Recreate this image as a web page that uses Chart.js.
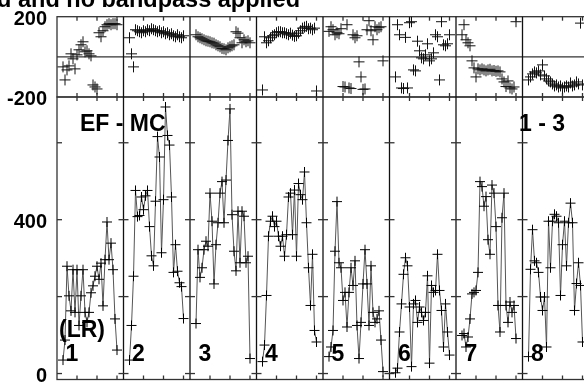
<!DOCTYPE html>
<html>
<head>
<meta charset="utf-8">
<script src="https://cdn.jsdelivr.net/npm/chart.js@4"></script>
<style>
  html, body { margin: 0; padding: 0; overflow: hidden; background: #fff; }
  .wrap { position: relative; width: 600px; height: 386px; }
</style>
</head>
<body>
<div class="wrap"><canvas id="possmChart"></canvas></div>
<script>
// IF numbers and channels plotted in each IF
const ifNumbers = ["1", "2", "3", "4", "5", "6", "7", "8"];
const channels = [3, 4, 5, 6, 7, 8, 9, 10, 11, 12, 13, 14, 15, 16, 17, 18, 19, 20, 21, 22, 23, 24, 25, 26, 27, 28, 29, 30];
const ifWidth = 33.25;
const channelTicks = [10, 20, 30];

// amplitude per IF
const ampIF1 = [35, 87, 279, 202, 163, 270, 159, 270, 125, 202, 270, 159, 133, 159, 210, 228, 253, 279, 245, 287, 176, 296, 394, 296, 339, 270, 142, 61];
const ampIF2 = [35, 125, 253, 476, 408, 411, 459, 426, 462, 476, 382, 306, 280, 448, 616, 563, 314, 452, 693, 619, 594, 459, 263, 335, 266, 236, 226, 143];
const ampIF3 = [130, 322, 250, 275, 322, 344, 331, 469, 396, 233, 335, 392, 469, 499, 392, 503, 606, 688, 413, 318, 267, 422, 288, 422, 409, 288, 305, 39];
const ampIF4 = [31, 74, 203, 357, 396, 409, 382, 396, 357, 331, 357, 305, 361, 459, 469, 361, 477, 305, 494, 465, 452, 524, 392, 275, 177, 310, 112, 82];
const ampIF5 = [44, 69, 112, 318, 447, 288, 275, 190, 211, 121, 211, 275, 229, 293, 125, 39, 133, 233, 322, 233, 125, 280, 159, 133, 142, 163, 87, 5];
const ampIF6 = [2, 14, 108, 181, 258, 301, 280, 173, 18, 181, 190, 133, 173, 159, 138, 159, 254, 27, 229, 211, 216, 310, 216, 164, 69, 181, 108, 48];
const ampIF7 = [99, 104, 69, 95, 142, 207, 211, 216, 263, 499, 486, 435, 460, 348, 310, 490, 469, 382, 177, 108, 405, 469, 177, 133, 186, 159, 177, 91];
const ampIF8 = [44, 271, 374, 293, 288, 263, 199, 164, 199, 69, 396, 275, 396, 414, 409, 392, 203, 335, 396, 280, 392, 443, 392, 164, 234, 288, 229, 82];

// phase per IF (degrees)
const phsIF1 = [-50, -115, -65, -45, 15, -10, -60, 10, 35, 60, 75, 25, 30, 15, 5, -140, -150, -160, 120, 100, 130, 150, 160, 165, 160, 165, 165, 160];
const phsIF2 = [95, 15, -50, 135, 130, 125, 120, 130, 125, 135, 130, 140, 135, 130, 125, 130, 120, 125, 115, 120, 110, 115, 105, 100, 110, 100, 95, 105];
const phsIF3 = [110, 100, 95, 90, 85, 80, 78, 75, 70, 68, 60, 55, 50, 42, 40, 35, 45, 50, 55, 60, 125, 118, 95, 70, 85, 75, 80, 70];
const phsIF4 = [-165, 100, 70, 80, 95, 105, 110, 120, 125, 125, 120, 120, 115, 110, 118, 108, 102, 105, 118, 130, 143, 148, 152, 140, 143, 135, 143, -170];
const phsIF5 = [127, 150, 135, 110, 120, 115, 140, -148, -150, 160, -155, -158, 110, 95, 105, -25, -100, -162, -160, 135, 180, 130, 85, 150, 135, 145, 150, -20];
const phsIF6 = [-100, 160, 110, -155, -158, 97, -155, 170, 175, -65, -70, 78, 30, -5, -10, 10, 65, -20, -10, 20, 110, 100, -115, 175, 60, 55, 65, 110];
const phsIF7 = [110, 160, 85, 70, 55, -20, -55, -100, -60, -65, -60, -65, -70, -65, -62, -70, -68, -72, -70, -75, -110, -125, -148, -120, -155, -160, -150, 175];
const phsIF8 = [-115, -100, -85, -75, -80, -70, -90, -40, -95, -110, -120, -125, -135, -145, -140, -150, -145, -155, -150, -145, -150, -130, -145, -140, -125, -135, 168, -140];

// axis ticks and labels
const phaseTicks = [-200, 0, 200];
const phaseTickLabels = [-200, 200];
const ampTicks = [0, 200, 400, 600];
const ampTickLabels = [0, 400];

const titleText = "d and no bandpass applied";
const baselineText = "EF - MC";
const sourceText = "1 - 3";
const stokesText = "(LR)";

document.addEventListener("DOMContentLoaded", () => {
  const ampByIF = [ampIF1, ampIF2, ampIF3, ampIF4, ampIF5, ampIF6, ampIF7, ampIF8];
  const phsByIF = [phsIF1, phsIF2, phsIF3, phsIF4, phsIF5, phsIF6, phsIF7, phsIF8];
  const boldFont = "bold 23px 'Liberation Sans', Arial, Helvetica, sans-serif";

  const datasets = [];
  ampByIF.forEach((vals, i) => {
    datasets.push({
      label: "amp IF " + ifNumbers[i],
      yAxisID: "amp",
      data: vals.map((v, k) => ({ x: i * ifWidth + channels[k], y: v })),
      showLine: true,
      borderColor: "#555",
      borderWidth: 1,
      pointStyle: "cross",
      pointRadius: 5,
      pointBorderColor: "#000",
      pointBorderWidth: 1,
    });
  });
  phsByIF.forEach((vals, i) => {
    datasets.push({
      label: "phase IF " + ifNumbers[i],
      yAxisID: "ph",
      data: vals.map((v, k) => ({ x: i * ifWidth + channels[k], y: v })),
      showLine: false,
      pointStyle: "cross",
      pointRadius: 5.5,
      pointBorderColor: "#111",
      pointBorderWidth: 1,
    });
  });

  function line(ctx, x1, y1, x2, y2) {
    ctx.beginPath();
    ctx.moveTo(x1, y1);
    ctx.lineTo(x2, y2);
    ctx.stroke();
  }

  // fixed axis width, no extra room for the end labels
  function fitAxis(scale) {
    scale.width = 57;
    scale.paddingTop = 0;
    scale.paddingBottom = 0;
  }

  // frame, IF dividers and tick marks, like the AIPS plot
  const framePlugin = {
    id: "frame",
    beforeDatasetsDraw(chart) {
      const { ctx, chartArea, scales } = chart;
      const x = scales.x, ph = scales.ph, amp = scales.amp;
      ctx.save();
      ctx.strokeStyle = "#333";
      ctx.lineWidth = 1.3;
      ctx.strokeRect(chartArea.left, ph.top, chartArea.right - chartArea.left, ph.bottom - ph.top);
      ctx.strokeRect(chartArea.left, amp.top, chartArea.right - chartArea.left, amp.bottom - amp.top);
      const y0 = ph.getPixelForValue(phaseTicks[1]);
      line(ctx, chartArea.left, y0, chartArea.right, y0);
      ifNumbers.forEach((n, i) => {
        const xl = x.getPixelForValue(i * ifWidth);
        ctx.strokeStyle = "#111";
        if (i > 0) line(ctx, xl, ph.top, xl, amp.bottom);
        ctx.strokeStyle = "#333";
        channelTicks.forEach((c) => {
          const xt = x.getPixelForValue(i * ifWidth + c);
          line(ctx, xt, ph.top, xt, ph.top + 4);
          line(ctx, xt, ph.bottom - 4, xt, ph.bottom + 4);
          line(ctx, xt, amp.bottom - 4, xt, amp.bottom);
        });
        ampTicks.forEach((v) => {
          const yt = amp.getPixelForValue(v);
          line(ctx, xl - (i ? 5 : 0), yt, xl + 5, yt);
        });
      });
      ctx.restore();
    },
    afterDraw(chart) {
      const { ctx, chartArea, scales } = chart;
      const x = scales.x, amp = scales.amp;
      ctx.save();
      ctx.fillStyle = "#000";
      ctx.textBaseline = "alphabetic";
      ctx.font = "bold 23.5px 'Liberation Sans', Arial, Helvetica, sans-serif";
      ctx.textAlign = "right";
      ctx.fillText(titleText, 300, 7);
      ctx.font = boldFont;
      ctx.textAlign = "left";
      ctx.fillText(baselineText, chartArea.left + 23, amp.top + 34);
      ctx.textAlign = "right";
      ctx.fillText(sourceText, chartArea.right - 24, amp.top + 34);
      ctx.textAlign = "left";
      ctx.fillText(stokesText, chartArea.left + 2, amp.bottom - 43);
      ifNumbers.forEach((n, i) => {
        ctx.fillText(n, x.getPixelForValue(i * ifWidth) + 8.5, amp.bottom - 19);
      });
      ctx.restore();
    },
  };

  const tickFont = { family: "'Liberation Sans', Arial, Helvetica, sans-serif", size: 20, weight: "bold" };

  new Chart(document.getElementById("possmChart").getContext("2d"), {
    type: "scatter",
    data: { datasets: datasets },
    options: {
      responsive: true,
      maintainAspectRatio: false,
      animation: false,
      layout: { padding: { top: 16.7, right: 11, bottom: 3, left: 0 } },
      plugins: { legend: { display: false }, tooltip: { enabled: false } },
      scales: {
        x: {
          type: "linear",
          display: false,
          min: 0,
          max: ifNumbers.length * ifWidth,
        },
        amp: {
          type: "linear",
          position: "left",
          stack: "panels",
          stackWeight: 285,
          min: -15.5,
          max: 719,
          grid: { display: false, drawTicks: false },
          border: { display: false },
          afterFit: fitAxis,
          afterBuildTicks: (scale) => { scale.ticks = ampTicks.map((v) => ({ value: v })); },
          ticks: {
            color: "#000",
            font: tickFont,
            padding: 10,
            labelOffset: 2.5,
            callback: (v) => (ampTickLabels.includes(v) ? String(v) : ""),
          },
        },
        ph: {
          type: "linear",
          position: "left",
          stack: "panels",
          stackWeight: 81,
          min: -200,
          max: 200,
          grid: { display: false, drawTicks: false },
          border: { display: false },
          afterFit: fitAxis,
          afterBuildTicks: (scale) => { scale.ticks = phaseTicks.map((v) => ({ value: v })); },
          ticks: {
            color: "#000",
            font: tickFont,
            padding: 10,
            labelOffset: 2.5,
            callback: (v) => (phaseTickLabels.includes(v) ? String(v) : ""),
          },
        },
      },
    },
    plugins: [framePlugin],
  });
});
</script>
</body>
</html>
